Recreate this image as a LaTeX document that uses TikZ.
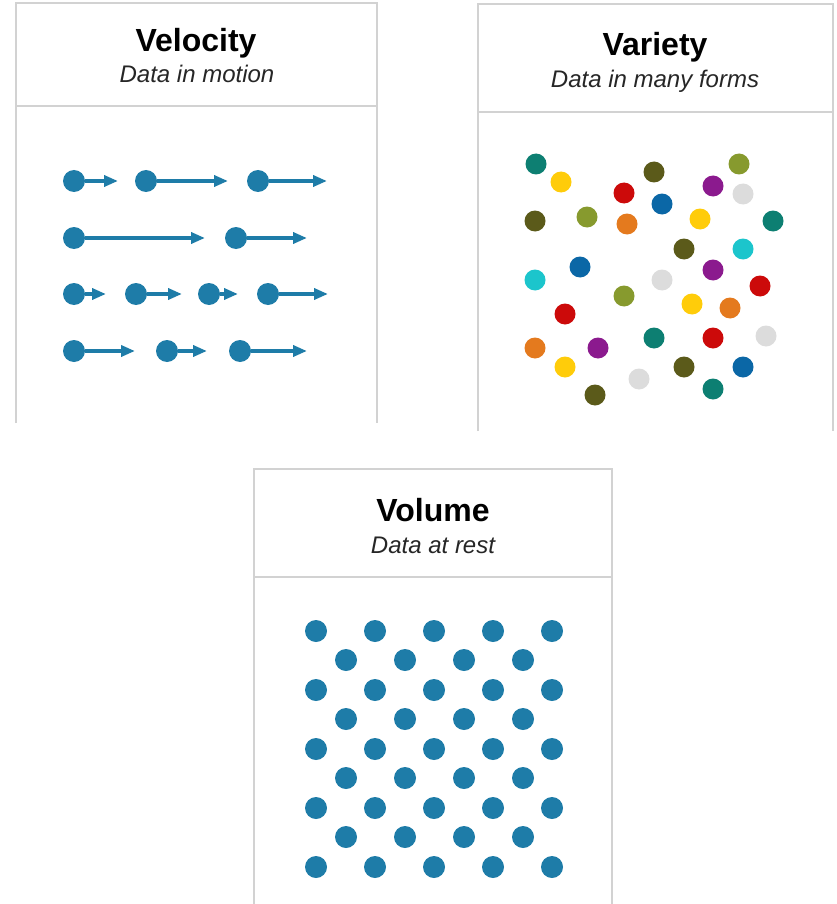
\documentclass[tikz,border=0pt]{standalone}
\usepackage{fontspec}
\setmainfont{Liberation Sans}
\usetikzlibrary{arrows.meta}

\definecolor{panelgray}{HTML}{D2D2D2}
\definecolor{dotblue}{HTML}{1E7CA8}
\definecolor{vteal}{HTML}{0D7F72}
\definecolor{vyellow}{HTML}{FFCC0A}
\definecolor{vdarkolive}{HTML}{5B5A1A}
\definecolor{volive}{HTML}{879A2E}
\definecolor{vred}{HTML}{CC0A0A}
\definecolor{vpurple}{HTML}{8B1A8E}
\definecolor{vgray}{HTML}{DCDCDC}
\definecolor{vblue}{HTML}{0B67A6}
\definecolor{vorange}{HTML}{E47A1E}
\definecolor{vcyan}{HTML}{1CC5CC}

\tikzset{
  panel/.style={draw=panelgray, line width=1.5pt},
  dot/.style={circle, fill=dotblue, inner sep=0pt, minimum size=22pt},
  spot/.style={circle, fill=#1, inner sep=0pt, minimum size=21pt},
  flow/.style={draw=dotblue, line width=3.5pt, -{Triangle[length=14pt,width=11pt]}},
  title/.style={anchor=base, font=\fontsize{32}{32}\selectfont\bfseries},
  subtitle/.style={anchor=base, font=\fontsize{24}{24}\selectfont\itshape, text=black!85}
}

\begin{document}
\begin{tikzpicture}[x=1pt,y=-1pt]
\useasboundingbox (0,0) rectangle (836,904);

\draw[panel] (16,423) -- (16,3) -- (377,3) -- (377,423);
\draw[panel] (16,106) -- (377,106);
\node[title] (veltitle) at (196,52) {Velocity};
\node[subtitle] (velsub) at (197,83) {Data in motion};

\node[dot] (v11) at (74,181) {};
\coordinate (v11 tip) at (118,181);
\draw[flow] (v11) -- (v11 tip);
\node[dot] (v12) at (146,181) {};
\coordinate (v12 tip) at (228,181);
\draw[flow] (v12) -- (v12 tip);
\node[dot] (v13) at (258,181) {};
\coordinate (v13 tip) at (327,181);
\draw[flow] (v13) -- (v13 tip);

\node[dot] (v21) at (74,238) {};
\coordinate (v21 tip) at (205,238);
\draw[flow] (v21) -- (v21 tip);
\node[dot] (v22) at (236,238) {};
\coordinate (v22 tip) at (307,238);
\draw[flow] (v22) -- (v22 tip);

\node[dot] (v31) at (74,294) {};
\coordinate (v31 tip) at (106,294);
\draw[flow] (v31) -- (v31 tip);
\node[dot] (v32) at (136,294) {};
\coordinate (v32 tip) at (182,294);
\draw[flow] (v32) -- (v32 tip);
\node[dot] (v33) at (209,294) {};
\coordinate (v33 tip) at (238,294);
\draw[flow] (v33) -- (v33 tip);
\node[dot] (v34) at (268,294) {};
\coordinate (v34 tip) at (328,294);
\draw[flow] (v34) -- (v34 tip);

\node[dot] (v41) at (74,351) {};
\coordinate (v41 tip) at (135,351);
\draw[flow] (v41) -- (v41 tip);
\node[dot] (v42) at (167,351) {};
\coordinate (v42 tip) at (207,351);
\draw[flow] (v42) -- (v42 tip);
\node[dot] (v43) at (240,351) {};
\coordinate (v43 tip) at (307,351);
\draw[flow] (v43) -- (v43 tip);

\draw[panel] (478,431) -- (478,4) -- (833,4) -- (833,431);
\draw[panel] (478,112) -- (833,112);
\node[title] (vartitle) at (655,56) {Variety};
\node[subtitle] (varsub) at (655,88) {Data in many forms};

\node[spot=vteal] (c1) at (536,164) {};
\node[spot=vyellow] (c2) at (561,182) {};
\node[spot=vdarkolive] (c3) at (654,172) {};
\node[spot=volive] (c4) at (739,164) {};
\node[spot=vred] (c5) at (624,193) {};
\node[spot=vpurple] (c6) at (713,186) {};
\node[spot=vgray] (c7) at (743,194) {};
\node[spot=vblue] (c8) at (662,204) {};
\node[spot=vdarkolive] (c9) at (535,221) {};
\node[spot=volive] (c10) at (587,217) {};
\node[spot=vorange] (c11) at (627,224) {};
\node[spot=vyellow] (c12) at (700,219) {};
\node[spot=vteal] (c13) at (773,221) {};
\node[spot=vdarkolive] (c14) at (684,249) {};
\node[spot=vcyan] (c15) at (743,249) {};
\node[spot=vblue] (c16) at (580,267) {};
\node[spot=vpurple] (c17) at (713,270) {};
\node[spot=vcyan] (c18) at (535,280) {};
\node[spot=vgray] (c19) at (662,280) {};
\node[spot=vred] (c20) at (760,286) {};
\node[spot=volive] (c21) at (624,296) {};
\node[spot=vyellow] (c22) at (692,304) {};
\node[spot=vorange] (c23) at (730,308) {};
\node[spot=vred] (c24) at (565,314) {};
\node[spot=vteal] (c25) at (654,338) {};
\node[spot=vred] (c26) at (713,338) {};
\node[spot=vgray] (c27) at (766,336) {};
\node[spot=vorange] (c28) at (535,348) {};
\node[spot=vpurple] (c29) at (598,348) {};
\node[spot=vyellow] (c30) at (565,367) {};
\node[spot=vdarkolive] (c31) at (684,367) {};
\node[spot=vblue] (c32) at (743,367) {};
\node[spot=vgray] (c33) at (639,379) {};
\node[spot=vdarkolive] (c34) at (595,395) {};
\node[spot=vteal] (c35) at (713,389) {};

\draw[panel] (254,904) -- (254,469) -- (612,469) -- (612,904);
\draw[panel] (254,577) -- (612,577);
\node[title] (voltitle) at (433,521) {Volume};
\node[subtitle] (volsub) at (433,553) {Data at rest};

\foreach \r in {0,...,4}
  \foreach \c in {0,...,4}
    \node[dot] (g\r\c) at ({316+59*\c},{631+59*\r}) {};
\foreach \r in {0,...,3}
  \foreach \c in {0,...,3}
    \node[dot] (h\r\c) at ({346+59*\c},{660+59*\r}) {};
\end{tikzpicture}
\end{document}
